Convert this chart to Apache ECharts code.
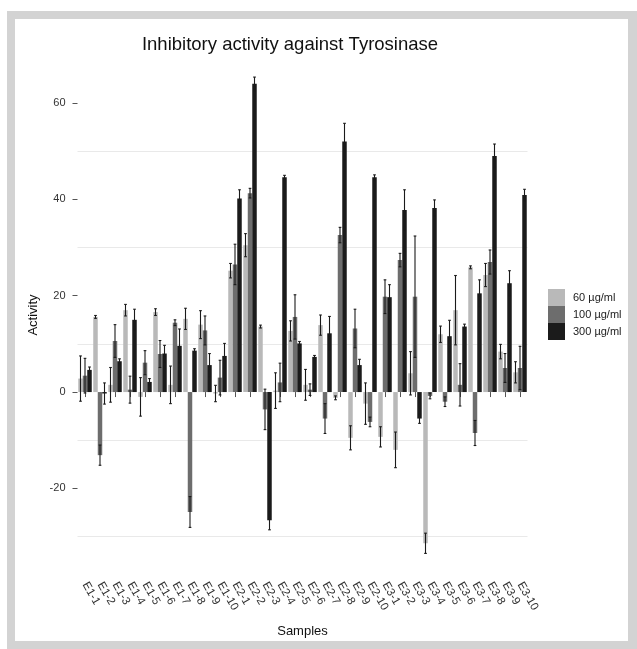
<!DOCTYPE html>
<html>
<head>
<meta charset="utf-8">
<script src="https://cdn.jsdelivr.net/npm/echarts@6/dist/echarts.min.js"></script>
<style>
html,body{margin:0;padding:0;background:#fff;}
#chart{width:637px;height:649px;}
</style>
</head>
<body>
<div id="chart"></div>
<script>
const categories = ['E1-1','E1-2','E1-3','E1-4','E1-5','E1-6','E1-7','E1-8','E1-9','E1-10',
  'E2-1','E2-2','E2-3','E2-4','E2-5','E2-6','E2-7','E2-8','E2-9','E2-10',
  'E3-1','E3-2','E3-3','E3-4','E3-5','E3-6','E3-7','E3-8','E3-9','E3-10'];
const seriesNames = ['60 µg/ml','100 µg/ml','300 µg/ml'];
const v60 = [2.8, 15.6, 1.5, 17.0, -1.0, 16.6, 1.5, 15.2, 14.0, -0.3,
  25.2, 30.5, 13.6, 0.3, 12.7, 1.5, 13.9, -1.2, -9.5, -2.4,
  -9.3, -12.0, 3.9, -31.4, 12.0, 17.0, 25.9, 24.3, 8.4, 4.1];
const e60 = [4.7, 0.3, 3.6, 1.2, 4.0, 0.7, 3.9, 2.2, 2.9, 1.7,
  1.5, 2.4, 0.3, 3.7, 2.1, 3.2, 2.1, 0.4, 2.5, 4.3,
  2.1, 3.7, 4.5, 2.1, 1.7, 7.2, 0.3, 2.4, 1.5, 2.2];
const v100 = [3.4, -13.1, 10.6, 0.5, 6.1, 7.9, 14.4, -24.9, 12.8, 3.0,
  26.5, 41.3, -3.6, 2.0, 15.6, 0.5, -5.5, 32.6, 13.2, -6.2,
  19.8, 27.4, 19.8, -0.8, -2.0, 1.5, -8.5, 27.0, 5.0, 5.0];
const e100 = [3.6, 2.1, 3.4, 2.8, 2.5, 2.8, 0.6, 3.2, 3.0, 3.6,
  4.2, 1.0, 4.2, 4.0, 4.6, 1.2, 3.1, 1.6, 4.0, 1.0,
  3.5, 1.4, 12.6, 0.6, 1.0, 4.4, 2.6, 2.5, 3.0, 4.5];
const v300 = [4.6, -0.3, 6.4, 15.0, 2.1, 8.0, 9.6, 8.6, 5.6, 7.5,
  40.2, 64.0, -26.6, 44.6, 10.1, 7.3, 12.2, 52.0, 5.6, 44.6,
  19.7, 37.8, -5.5, 38.2, 11.6, 13.6, 20.5, 49.0, 22.6, 40.9];
const e300 = [0.6, 2.2, 0.5, 2.2, 0.7, 1.7, 3.5, 0.4, 2.4, 2.6,
  1.8, 1.4, 2.0, 0.4, 0.4, 0.3, 3.5, 3.8, 1.2, 0.5,
  2.6, 4.2, 1.0, 1.7, 3.3, 0.5, 2.8, 2.5, 2.6, 1.2];
const yTicks = [-20, 0, 20, 40, 60];
const minorGrid = [-30, -10, 10, 30, 50];

const colors = ['#b9b9b9', '#6d6d6d', '#1b1b1b'];
const FONT = 'Liberation Sans, Arial, Helvetica, sans-serif';

const chart = echarts.init(document.getElementById('chart'), null, {renderer: 'canvas'});

const values = [v60, v100, v300];
const errs = [e60, e100, e300];

function errSeries(k) {
  return {
    type: 'custom',
    name: 'err' + k,
    z: 5,
    silent: true,
    data: values[k].map((v, i) => [i, v, errs[k][i]]),
    encode: {x: 0, y: 1},
    renderItem: function (params, api) {
      const i = api.value(0), v = api.value(1), e = api.value(2);
      const band = api.size([1, 0])[0];
      const barW = band * 0.9 / 3;
      const off = (k - 1) * barW;
      const top = api.coord([i, v + e]);
      const bot = api.coord([i, v - e]);
      const x = top[0] + off;
      const hw = barW * 0.3;
      const st = {stroke: '#1a1a1a', lineWidth: 1.1};
      return {
        type: 'group',
        children: [
          {type: 'line', shape: {x1: x, y1: top[1], x2: x, y2: bot[1]}, style: st},
          {type: 'line', shape: {x1: x - hw, y1: top[1], x2: x + hw, y2: top[1]}, style: st},
          {type: 'line', shape: {x1: x - hw, y1: bot[1], x2: x + hw, y2: bot[1]}, style: st}
        ]
      };
    }
  };
}

const gridSeries = {
  type: 'line',
  name: 'grid',
  data: [],
  z: 0,
  silent: true,
  markLine: {
    silent: true,
    z: 0,
    symbol: ['none', 'none'],
    label: {show: false},
    lineStyle: {color: '#e9e9e9', type: 'solid', width: 1},
    data: minorGrid.map(v => ({yAxis: v}))
  }
};

const barSeries = [0, 1, 2].map(k => ({
  type: 'bar',
  name: seriesNames[k],
  data: values[k],
  barGap: '0%',
  barCategoryGap: '10%',
  itemStyle: {color: colors[k]},
  z: 3
}));

const option = {
  animation: false,
  backgroundColor: '#ffffff',
  textStyle: {fontFamily: FONT},
  graphic: [
    {type: 'rect', z: -10, shape: {x: 7, y: 11, width: 630, height: 638}, style: {fill: '#d3d3d3'}},
    {type: 'rect', z: -9, shape: {x: 15, y: 19, width: 613, height: 622}, style: {fill: '#ffffff'}},
    {type: 'text', x: 290, y: 45, style: {text: 'Inhibitory activity against Tyrosinase', font: '18.5px ' + FONT, fill: '#111', textAlign: 'center', textVerticalAlign: 'middle'}}
  ],
  legend: {
    data: seriesNames,
    orient: 'vertical',
    left: 548,
    top: 289,
    padding: 0,
    itemWidth: 17,
    itemHeight: 17,
    itemGap: 0,
    icon: 'rect',
    textStyle: {fontSize: 11, color: '#222', fontFamily: FONT, padding: [0, 0, 0, 3]}
  },
  grid: {left: 77.5, width: 450, top: 53, height: 524, containLabel: false},
  xAxis: {
    type: 'category',
    data: categories,
    boundaryGap: true,
    name: 'Samples',
    nameLocation: 'middle',
    nameGap: 48,
    nameMoveOverlap: false,
    nameTextStyle: {fontSize: 13, color: '#111', fontFamily: FONT},
    axisLine: {show: false},
    axisTick: {show: true, alignWithLabel: true, length: 5, lineStyle: {color: '#555'}},
    axisLabel: {rotate: -60, interval: 0, fontSize: 11.5, color: '#333', margin: 6, fontFamily: FONT},
    splitLine: {show: false}
  },
  yAxis: {
    type: 'value',
    min: -38.4,
    max: 70.4,
    name: 'Activity',
    nameLocation: 'middle',
    nameGap: 38,
    nameMoveOverlap: false,
    nameRotate: 90,
    nameTextStyle: {fontSize: 13, color: '#111', fontFamily: FONT},
    axisLine: {show: false},
    axisTick: {show: true, length: 5, customValues: yTicks, lineStyle: {color: '#555'}},
    axisLabel: {customValues: yTicks, fontSize: 11, color: '#333', margin: 12, fontFamily: FONT},
    splitLine: {show: false}
  },
  series: [gridSeries].concat(barSeries, [errSeries(0), errSeries(1), errSeries(2)])
};

chart.setOption(option);
</script>
</body>
</html>
